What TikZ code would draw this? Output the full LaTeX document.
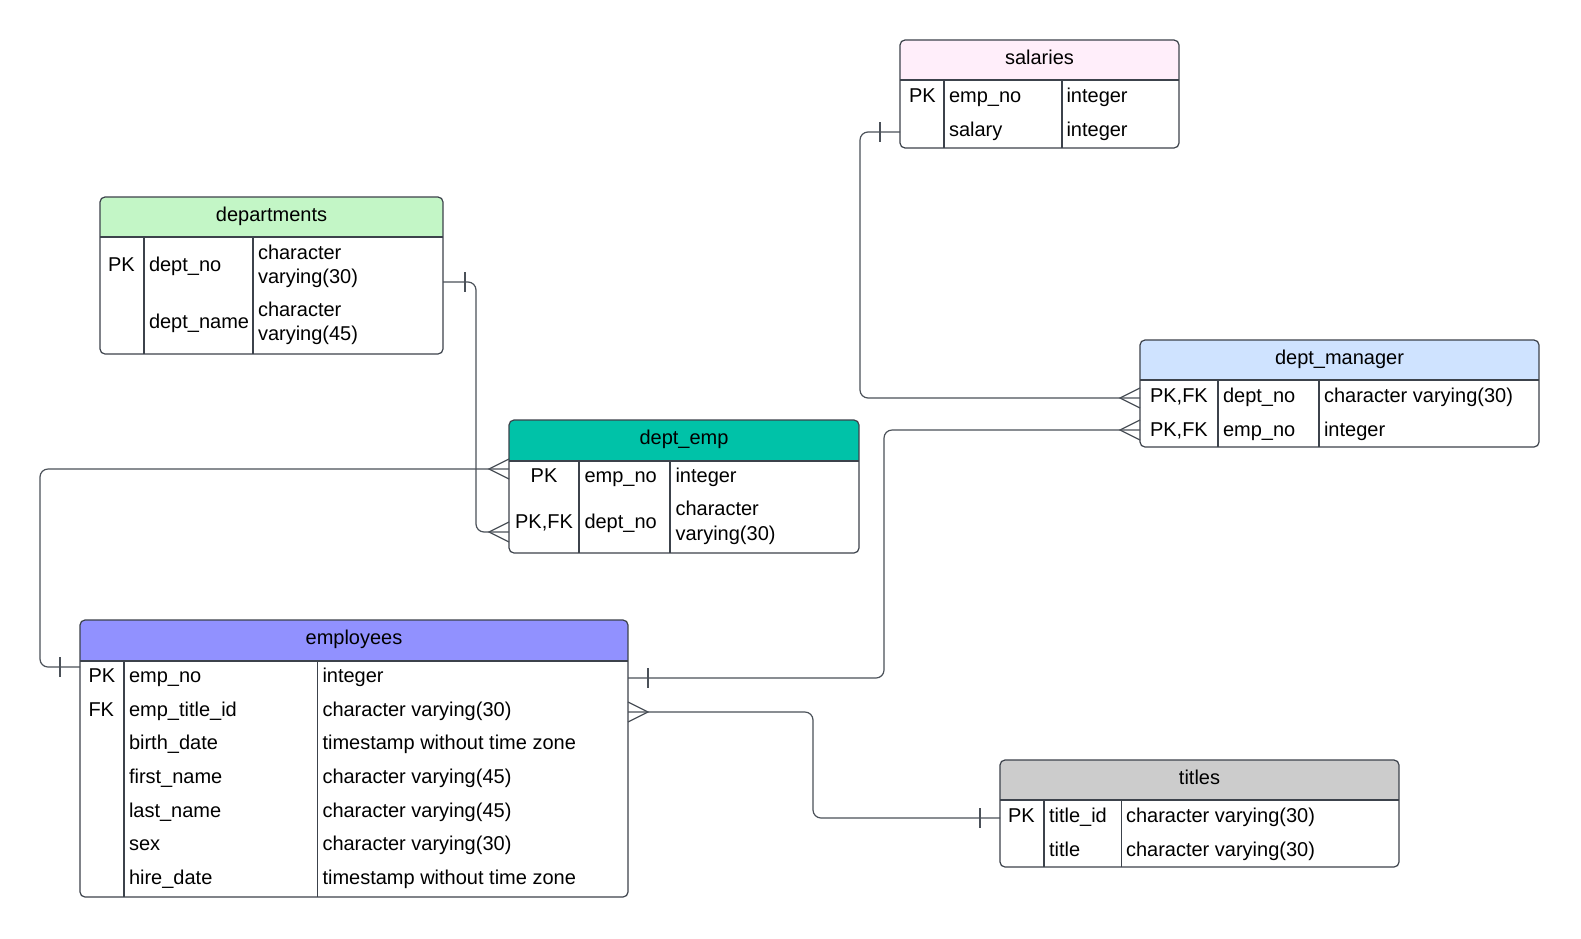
\documentclass[tikz,border=0pt]{standalone}
\usepackage{fontspec}
\setmainfont{Liberation Sans}

\definecolor{edge}{HTML}{3C424B}
\definecolor{wire}{HTML}{4B5159}
\definecolor{hdrSal}{HTML}{FFEEFA}
\definecolor{hdrDep}{HTML}{C3F6C6}
\definecolor{hdrDE}{HTML}{00C2A8}
\definecolor{hdrDM}{HTML}{CFE3FF}
\definecolor{hdrEmp}{HTML}{9191FF}
\definecolor{hdrTit}{HTML}{CCCCCC}

\tikzset{
  tablebox/.style={draw=edge, line width=1.2pt, rounded corners=5pt, inner sep=0pt, outer sep=0pt},
  rule/.style={draw=edge, line width=1.2pt},
  txt/.style={anchor=base west, inner sep=0pt, outer sep=0pt, text=black},
  ctxt/.style={anchor=base, inner sep=0pt, outer sep=0pt, text=black},
  link/.style={draw=wire, line width=1.2pt, rounded corners=8pt},
  endmark/.style={draw=wire, line width=1.2pt, sharp corners},
}

% table frame: name, left, top, right, bottom, header bottom, column 1, column 2, header colour
\newcommand{\ertable}[9]{%
  \begin{scope}
    \clip[rounded corners=5pt] (#2,#3) rectangle (#4,#5);
    \fill[#9] (#2,#3) rectangle (#4,#6);
  \end{scope}
  \node[tablebox, minimum width={#4-#2}, minimum height={#5-#3}] (#1) at ({(#2+#4)/2},{(#3+#5)/2}) {};
  \draw[rule] (#2,#6) -- (#4,#6);
  \draw[rule] (#7,#6) -- (#7,#5);
  \draw[rule] (#8,#6) -- (#8,#5);
}
% "one" bar at a port, offset along the connector
\newcommand{\tickmark}[2]{\draw[endmark] (#1) ++(#2,-10) -- ++(0,20);}
% "many" crow's foot at a port
\newcommand{\crowfoot}[3]{\draw[endmark] (#1) ++(0,-10) -- ++(#2,10) -- ++(#3,10);}

\begin{document}
\begin{tikzpicture}[x=1pt, y=-1pt, font=\fontsize{20}{24}\selectfont]
\fill[white] (0,0) rectangle (1581,938);
\useasboundingbox (0,0) rectangle (1581,938);

% ---------- salaries ----------
\ertable{sal}{900}{40}{1179}{148}{80}{944}{1062}{hdrSal}
\node[ctxt] (sal-h) at (1039.5,64) {salaries};
\node[txt] (sal-k1) at (909,102) {PK};
\node[txt] (sal-n1) at (949,102) {emp\_no};
\node[txt] (sal-t1) at (1066.5,102) {integer};
\node[txt] (sal-n2) at (949,136) {salary};
\node[txt] (sal-t2) at (1066.5,136) {integer};

% ---------- departments ----------
\ertable{dep}{100}{197}{443}{354}{237}{144}{253}{hdrDep}
\node[ctxt] (dep-h) at (271.5,221) {departments};
\node[txt] (dep-k1) at (108,271) {PK};
\node[txt] (dep-n1) at (149,271) {dept\_no};
\node[txt] (dep-t1a) at (258,259) {character};
\node[txt] (dep-t1b) at (258,283.5) {varying(30)};
\node[txt] (dep-n2) at (149,328.5) {dept\_name};
\node[txt] (dep-t2a) at (258,316) {character};
\node[txt] (dep-t2b) at (258,340.5) {varying(45)};

% ---------- dept_emp ----------
\ertable{demp}{509}{420}{859}{553}{461}{579}{670}{hdrDE}
\node[ctxt] (demp-h) at (684,444) {dept\_emp};
\node[ctxt] (demp-k1) at (544,482) {PK};
\node[txt] (demp-n1) at (584.5,482) {emp\_no};
\node[txt] (demp-t1) at (675.5,482) {integer};
\node[ctxt] (demp-k2) at (544,528.5) {PK,FK};
\node[txt] (demp-n2) at (584.5,528.5) {dept\_no};
\node[txt] (demp-t2a) at (675.5,515) {character};
\node[txt] (demp-t2b) at (675.5,540) {varying(30)};

% ---------- dept_manager ----------
\ertable{dmgr}{1140}{340}{1539}{447}{380}{1218}{1319}{hdrDM}
\node[ctxt] (dmgr-h) at (1339.5,364) {dept\_manager};
\node[txt] (dmgr-k1) at (1150,402) {PK,FK};
\node[txt] (dmgr-n1) at (1223,402) {dept\_no};
\node[txt] (dmgr-t1) at (1324,402) {character varying(30)};
\node[txt] (dmgr-k2) at (1150,436) {PK,FK};
\node[txt] (dmgr-n2) at (1223,436) {emp\_no};
\node[txt] (dmgr-t2) at (1324,436) {integer};

% ---------- employees ----------
\ertable{emp}{80}{620}{628}{897}{661}{124}{317.5}{hdrEmp}
\node[ctxt] (emp-h) at (354,644) {employees};
\node[txt] (emp-k1) at (88.5,682) {PK};
\node[txt] (emp-n1) at (129,682) {emp\_no};
\node[txt] (emp-t1) at (322.5,682) {integer};
\node[txt] (emp-k2) at (88.5,716) {FK};
\node[txt] (emp-n2) at (129,716) {emp\_title\_id};
\node[txt] (emp-t2) at (322.5,716) {character varying(30)};
\node[txt] (emp-n3) at (129,749.5) {birth\_date};
\node[txt] (emp-t3) at (322.5,749.5) {timestamp without time zone};
\node[txt] (emp-n4) at (129,783) {first\_name};
\node[txt] (emp-t4) at (322.5,783) {character varying(45)};
\node[txt] (emp-n5) at (129,817) {last\_name};
\node[txt] (emp-t5) at (322.5,817) {character varying(45)};
\node[txt] (emp-n6) at (129,850.5) {sex};
\node[txt] (emp-t6) at (322.5,850.5) {character varying(30)};
\node[txt] (emp-n7) at (129,884) {hire\_date};
\node[txt] (emp-t7) at (322.5,884) {timestamp without time zone};

% ---------- titles ----------
\ertable{tit}{1000}{760}{1399}{867}{800}{1044}{1121.5}{hdrTit}
\node[ctxt] (tit-h) at (1199.5,784) {titles};
\node[txt] (tit-k1) at (1008,822) {PK};
\node[txt] (tit-n1) at (1049,822) {title\_id};
\node[txt] (tit-t1) at (1126,822) {character varying(30)};
\node[txt] (tit-n2) at (1049,856) {title};
\node[txt] (tit-t2) at (1126,856) {character varying(30)};

% ---------- connector ports ----------
\coordinate (salW)  at (sal.west  |- 0,132);
\coordinate (dmW1)  at (dmgr.west |- 0,398);
\coordinate (dmW2)  at (dmgr.west |- 0,430);
\coordinate (empE1) at (emp.east  |- 0,678);
\coordinate (empE2) at (emp.east  |- 0,712);
\coordinate (empW1) at (emp.west  |- 0,667);
\coordinate (titW)  at (tit.west  |- 0,818);
\coordinate (deW1)  at (demp.west |- 0,469);
\coordinate (deW2)  at (demp.west |- 0,532);
\coordinate (depE)  at (dep.east  |- 0,282);

% ---------- relationships ----------
\draw[link] (salW)  -- ++(-40,0)  |- (dmW1);
\draw[link] (empE1) -- ++(256,0)  |- (dmW2);
\draw[link] (empE2) -- ++(185,0)  |- (titW);
\draw[link] (empW1) -- ++(-40,0)  |- (deW1);
\draw[link] (depE)  -- ++(33,0)   |- (deW2);

\tickmark{salW}{-20}
\crowfoot{dmW1}{-20}{20}
\tickmark{empE1}{20}
\crowfoot{dmW2}{-20}{20}
\crowfoot{empE2}{20}{-20}
\tickmark{titW}{-20}
\tickmark{empW1}{-20}
\crowfoot{deW1}{-20}{20}
\tickmark{depE}{22}
\crowfoot{deW2}{-20}{20}
\end{tikzpicture}
\end{document}
